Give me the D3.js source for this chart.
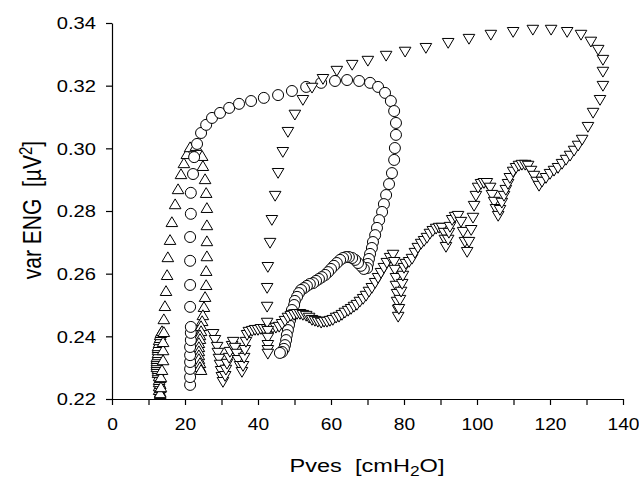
<!DOCTYPE html>
<html><head><meta charset="utf-8">
<script src="https://cdn.jsdelivr.net/npm/d3@7"></script>
<style>body{margin:0;background:#fff}svg text{font-family:"Liberation Sans",Arial,sans-serif;fill:#000}</style>
</head><body><svg id="c" width="639" height="479"></svg>
<script>
const xTickValues=[0,10,20,30,40,50,60,70,80,90,100,110,120,130,140];
const xTickLabels=["0","","20","","40","","60","","80","","100","","120","","140"];
const yTickValues=[0.22,0.24,0.26,0.28,0.30,0.32,0.34];
const yTickLabels=["0.22","0.24","0.26","0.28","0.30","0.32","0.34"];

// series 1: up triangles
const upX=[13.2,13.2,12.9,13.2,12.9,13.2,12.9,12.9,13.2,12.9,12.6,12.6,12.6,12.3,12.3,12.3,12.3,12.3,12.3,12.6,12.6,12.6,12.6,12.6,12.9,12.9,13.2,13.2,13.4,13.7,
 13.2,13.4,13.4,13.7,14.0,14.0,14.0,14.2,14.2,14.5,14.8,15.1,15.3,15.9,16.4,17.3,18.1,18.9,19.7,20.5,21.4,23.0,
 24.7,24.9,25.5,25.8,26.0,26.0,26.0,26.0,25.8,25.8,25.5,25.2,24.9,24.7,24.4,24.4,24.1,24.1,23.8,23.8,23.8,23.8,23.8,24.1,24.1,24.4];
const upY=[0.2216,0.2222,0.2229,0.2235,0.2241,0.2248,0.2254,0.2261,0.2267,0.2273,0.2283,0.2289,0.2296,0.2302,0.2309,0.2315,0.2321,0.2328,0.2334,0.2340,0.2347,0.2356,0.2363,0.2369,0.2379,0.2388,0.2395,0.2404,0.2411,0.2417,
 0.2219,0.2238,0.2270,0.2293,0.2324,0.2356,0.2382,0.2414,0.2455,0.2497,0.2545,0.2596,0.2653,0.2708,0.2765,0.2822,0.2870,0.2918,0.2953,0.2982,0.3004,0.3008,
 0.2976,0.2944,0.2902,0.2858,0.2810,0.2755,0.2704,0.2656,0.2609,0.2564,0.2526,0.2494,0.2468,0.2449,0.2433,0.2417,0.2404,0.2392,0.2379,0.2366,0.2353,0.2340,0.2328,0.2315,0.2302,0.2293];

// series 2: circles
const circX=[21.4,21.4,21.4,21.4,21.4,21.4,21.6,21.6,21.6,21.4,21.4,21.4,21.4,21.6,21.6,22.2,22.5,23.3,24.4,25.8,27.4,29.6,32.1,34.8,38.1,41.6,45.5,49.3,53.2,57.3,61.1,64.4,67.7,70.7,72.9,74.8,76.4,77.3,77.8,77.8,77.5,77.3,76.7,75.9,75.1,74.5,74.0,73.2,72.6,72.1,71.5,71.2,70.7,70.4,70.1,69.9,
 69.0,68.2,67.4,66.6,65.8,64.9,64.1,63.3,62.5,61.6,60.8,60.0,59.2,58.4,57.5,56.7,55.9,55.1,54.2,53.4,52.6,51.8,51.2,50.7,50.1,49.9,49.3,49.0,48.8,48.5,48.2,47.9,47.7,47.4,47.1,46.6,46.0];
const circY=[0.2245,0.2270,0.2296,0.2318,0.2340,0.2366,0.2388,0.2411,0.2430,0.2494,0.2564,0.2641,0.2717,0.2791,0.2858,0.2918,0.2972,0.3014,0.3049,0.3075,0.3097,0.3113,0.3129,0.3142,0.3151,0.3161,0.3170,0.3183,0.3196,0.3209,0.3215,0.3218,0.3215,0.3209,0.3196,0.3177,0.3151,0.3119,0.3081,0.3043,0.3001,0.2963,0.2921,0.2886,0.2851,0.2822,0.2797,0.2771,0.2746,0.2723,0.2701,0.2682,0.2663,0.2647,0.2631,0.2618,
 0.2615,0.2625,0.2634,0.2644,0.2650,0.2653,0.2653,0.2650,0.2644,0.2634,0.2625,0.2615,0.2605,0.2596,0.2589,0.2583,0.2577,0.2570,0.2567,0.2561,0.2554,0.2548,0.2538,0.2526,0.2513,0.2500,0.2484,0.2468,0.2452,0.2436,0.2420,0.2404,0.2388,0.2372,0.2360,0.2350,0.2347];

// series 3: down triangles
const downX=[27.7,28.2,28.8,29.0,29.3,29.6,29.9,30.1,30.4,31.0,31.2,31.5,32.1,32.3,32.9,33.2,33.7,34.2,34.5,35.1,35.6,35.9,36.2,36.4,36.7,37.0,37.5,38.4,39.2,40.0,40.8,41.6,42.5,43.3,44.1,44.9,45.8,
 46.6,47.4,48.2,49.0,49.9,50.7,51.5,52.3,53.2,54.0,54.8,55.6,56.4,57.3,58.1,58.9,59.7,60.5,61.4,62.2,63.0,63.8,64.7,65.5,66.3,67.1,67.9,68.8,69.6,70.4,71.2,72.1,72.9,73.7,74.5,75.3,76.2,77.0,
 77.3,77.5,77.8,77.8,78.1,78.1,78.4,78.4,78.6,78.9,79.2,79.5,79.7,80.0,80.5,81.4,82.2,83.0,83.8,84.7,85.5,86.3,87.1,87.9,88.8,89.6,90.4,91.0,91.2,91.5,92.1,92.3,92.6,93.2,94.0,94.8,
 95.6,96.2,96.7,97.3,97.8,98.4,98.9,99.2,99.7,100.3,101.1,101.9,102.7,103.6,104.1,104.7,105.2,105.8,106.3,106.8,107.4,107.9,108.5,109.0,109.9,110.7,111.5,112.3,113.2,114.0,114.8,115.6,116.4,117.0,
 117.8,118.9,120.0,121.1,122.2,123.3,124.4,125.5,126.6,127.7,128.8,130.4,131.8,133.7,134.5,134.5,134.5,133.2,131.2,128.5,124.7,120.3,115.3,109.9,103.8,97.8,92.1,86.0,80.3,75.1,70.1,65.8,61.6,57.8,54.8,52.3,50.1,48.2,46.8,45.5,44.7,43.8,43.3,42.7,42.5,42.5,42.5,42.7,42.7,42.7,42.7,42.7];
const downY=[0.2407,0.2388,0.2366,0.2347,0.2328,0.2309,0.2289,0.2270,0.2254,0.2273,0.2293,0.2312,0.2331,0.2350,0.2369,0.2382,0.2363,0.2344,0.2324,0.2305,0.2286,0.2305,0.2331,0.2356,0.2382,0.2404,0.2414,0.2417,0.2420,0.2420,0.2423,0.2423,0.2423,0.2423,0.2427,0.2427,0.2430,
 0.2439,0.2449,0.2459,0.2465,0.2468,0.2471,0.2471,0.2468,0.2465,0.2459,0.2452,0.2449,0.2446,0.2443,0.2446,0.2446,0.2449,0.2452,0.2459,0.2462,0.2468,0.2475,0.2481,0.2487,0.2494,0.2500,0.2510,0.2519,0.2529,0.2542,0.2554,0.2570,0.2586,0.2602,0.2618,0.2634,0.2650,0.2660,
 0.2637,0.2612,0.2586,0.2561,0.2535,0.2510,0.2484,0.2462,0.2487,0.2516,0.2542,0.2567,0.2593,0.2618,0.2631,0.2637,0.2647,0.2666,0.2682,0.2695,0.2704,0.2714,0.2727,0.2736,0.2743,0.2746,0.2746,0.2730,0.2708,0.2685,0.2708,0.2730,0.2749,0.2771,0.2781,0.2784,
 0.2765,0.2733,0.2701,0.2669,0.2701,0.2739,0.2778,0.2816,0.2848,0.2874,0.2886,0.2889,0.2889,0.2874,0.2851,0.2829,0.2806,0.2784,0.2803,0.2826,0.2848,0.2867,0.2886,0.2905,0.2925,0.2937,0.2944,0.2947,0.2947,0.2944,0.2928,0.2912,0.2893,0.2880,
 0.2893,0.2905,0.2918,0.2928,0.2937,0.2950,0.2963,0.2976,0.2992,0.3008,0.3027,0.3068,0.3113,0.3154,0.3199,0.3244,0.3282,0.3314,0.3340,0.3362,0.3371,0.3378,0.3378,0.3371,0.3362,0.3349,0.3336,0.3320,0.3308,0.3295,0.3279,0.3266,0.3247,0.3221,0.3193,0.3154,0.3107,0.3052,0.2988,0.2921,0.2848,0.2771,0.2698,0.2621,0.2554,0.2494,0.2443,0.2417,0.2395,0.2372,0.2356,0.2344];

const SX=1.26, FS=16;
const svg=d3.select("#c");
const x=d3.scaleLinear().domain([0,140]).range([112,623]);
const y=d3.scaleLinear().domain([0.22,0.34]).range([399,23]);

// marks
const up=upX.map((v,i)=>[v,upY[i]]);
const circ=circX.map((v,i)=>[v,circY[i]]);
const down=downX.map((v,i)=>[v,downY[i]]);
const triUp="M0,-5.2L5.8,4.6L-5.8,4.6Z";
const triDown="M-5.8,-4.6L5.8,-4.6L0,5.2Z";
const mk=svg.append("g").attr("fill","#fff").attr("stroke","#000").attr("stroke-width",1);
mk.append("g").selectAll("path").data(up).join("path")
  .attr("d",triUp).attr("transform",d=>`translate(${x(d[0])},${y(d[1])})`);
mk.append("g").selectAll("circle").data(circ).join("circle")
  .attr("cx",d=>x(d[0])).attr("cy",d=>y(d[1])).attr("r",5.5);
mk.append("g").selectAll("path").data(down).join("path")
  .attr("d",triDown).attr("transform",d=>`translate(${x(d[0])},${y(d[1])})`);

// axes
const gx=svg.append("g").attr("transform","translate(0,399)")
  .call(d3.axisBottom(x).tickValues(xTickValues).tickFormat((d,i)=>xTickLabels[i]).tickSize(6).tickSizeOuter(0));
gx.selectAll("text").attr("dy",null).attr("y",31).attr("font-size",16).attr("transform","scale(1.2,1)");
const gy=svg.append("g").attr("transform","translate(112,0)")
  .call(d3.axisLeft(y).tickValues(yTickValues).tickFormat((d,i)=>yTickLabels[i]).tickSize(6).tickSizeOuter(0));
gy.selectAll("text").attr("x",-16/SX).attr("dy","0.36em").attr("font-size",FS).attr("transform",`scale(${SX},1)`);
svg.selectAll(".domain,.tick line").attr("stroke","#000").attr("stroke-width",1.2);

// titles
const xt=svg.append("text").attr("transform",`translate(367,472) scale(1.24,1)`)
  .attr("text-anchor","middle").attr("font-size",19);
xt.append("tspan").text("Pves\u00a0\u00a0[cmH");
xt.append("tspan").attr("font-size",14).attr("baseline-shift","-25%").text("2");
xt.append("tspan").text("O]");
const yt=svg.append("text").attr("transform",`translate(41,210) scale(1.2,1) rotate(-90)`)
  .attr("text-anchor","middle").attr("font-size",21);
yt.append("tspan").text("var ENG\u00a0\u00a0[\u00b5V");
yt.append("tspan").attr("font-size",15).attr("baseline-shift","45%").text("2");
yt.append("tspan").text("]");
</script></body></html>
